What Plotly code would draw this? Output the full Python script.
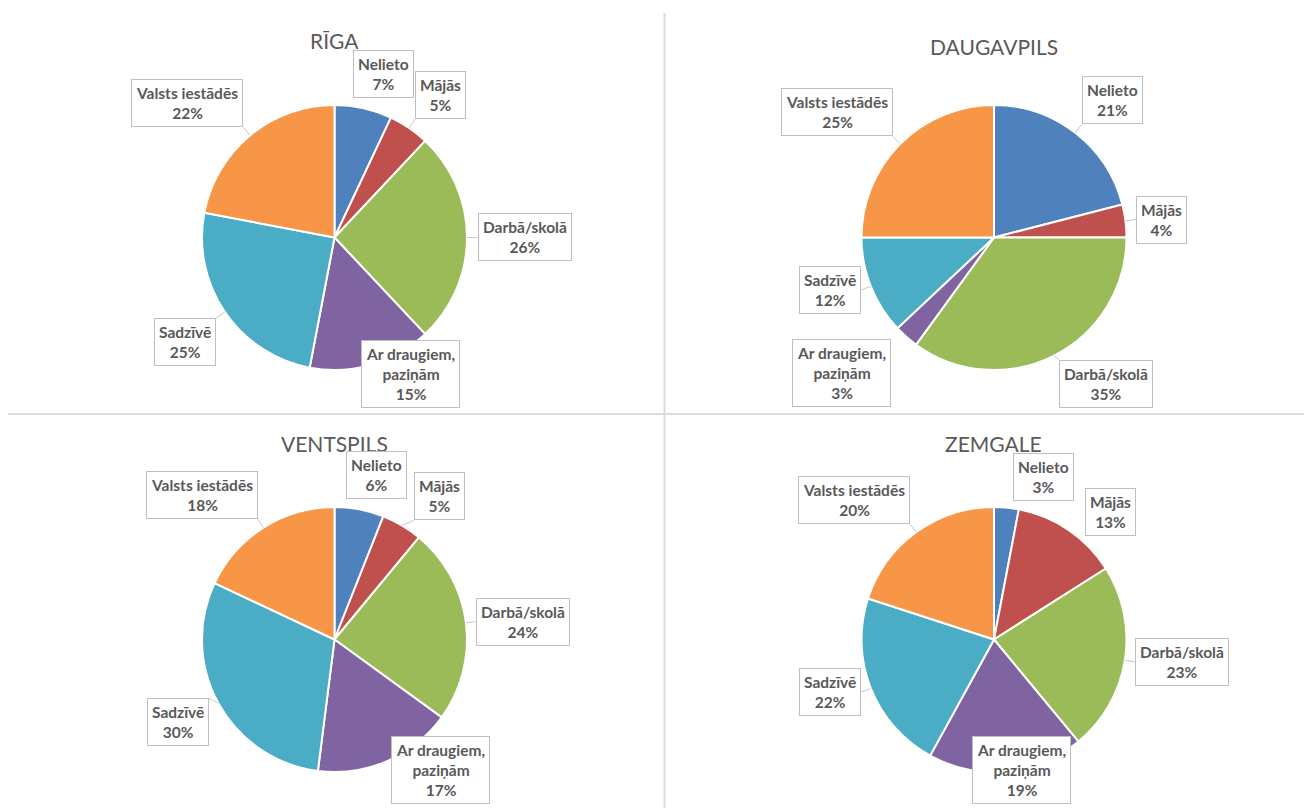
import math
import plotly.graph_objects as go

# ---------------- data ----------------
categories = ["Nelieto", "Mājās", "Darbā/skolā", "Ar draugiem,<br>paziņām", "Sadzīvē", "Valsts iestādēs"]
riga = [7, 5, 26, 15, 25, 22]
daugavpils = [21, 4, 35, 3, 12, 25]
ventspils = [6, 5, 24, 17, 30, 18]
zemgale = [3, 13, 23, 19, 22, 20]
titles = ["RĪGA", "DAUGAVPILS", "VENTSPILS", "ZEMGALE"]

# ---------------- styling / layout ----------------
W, H = 1312, 808
OFF = 8  # page body margin offset
colors = ["#4F81BD", "#C0504D", "#9BBB59", "#8064A2", "#4BACC6", "#F79646"]
TXT = "#595959"
FONT = "Lato"
R = 132.5
centers = [(334.5, 237.5), (994.0, 237.5), (334.5, 639.5), (994.0, 639.5)]
title_pos = [(334, 40), (994, 46), (334, 443), (994, 443)]
# pixel nudges for individual callouts (dx right, dy down)
nudges = {
    (0, 0): (18, 0), (0, 3): (36, -35),
    (1, 2): (0, -5), (1, 3): (-8, -6),
    (2, 0): (15, 0), (2, 1): (7, 4), (2, 3): (0, -35), (2, 4): (0, -10),
    (3, 0): (36, 4), (3, 1): (11, 15), (3, 3): (14, -46),
}

series = [riga, daugavpils, ventspils, zemgale]


def px(x):
    return (x - OFF) / W


def py(y):
    return 1 - (y - OFF) / H


fig = go.Figure()
annotations = []
shapes = []

for i, (vals, (cx, cy)) in enumerate(zip(series, centers)):
    fig.add_trace(go.Pie(
        labels=categories, values=vals, sort=False, direction="clockwise",
        rotation=0, textinfo="none", hoverinfo="label+percent",
        marker=dict(colors=colors, line=dict(color="white", width=2)),
        domain=dict(x=[px(cx - R), px(cx + R)], y=[py(cy + R), py(cy - R)]),
        showlegend=False,
    ))
    tx, ty = title_pos[i]
    annotations.append(dict(
        x=px(tx), y=py(ty), xref="paper", yref="paper", text=titles[i],
        showarrow=False, xanchor="center", yanchor="middle",
        font=dict(family=FONT, size=21, color=TXT)))

    total = sum(vals)
    cum = 0
    for j, v in enumerate(vals):
        mid = (cum + v / 2) / total * 2 * math.pi
        cum += v
        s, c = math.sin(mid), math.cos(mid)
        k = 1.08
        ax, ay = cx + s * R * k, cy - c * R * k
        xa = "left" if s >= 0.35 else ("right" if s <= -0.35 else "center")
        ya = "bottom" if c >= 0.4 else ("top" if c <= -0.4 else "middle")
        dx, dy = nudges.get((i, j), (0, 0))
        pct = round(v / total * 100)
        annotations.append(dict(
            x=px(ax), y=py(ay), xref="paper", yref="paper",
            xshift=dx, yshift=-dy,
            text=f"<b>{categories[j]}<br>{pct}%</b>",
            showarrow=False, xanchor=xa, yanchor=ya, align="center",
            font=dict(family=FONT, size=15.5, color=TXT),
            bgcolor="white", bordercolor="#bfbfbf", borderwidth=1, borderpad=4))
        # leader line from slice edge to callout
        ex, ey = cx + s * R, cy - c * R
        lx, ly = ax + dx, ay + dy
        if math.hypot(lx - ex, ly - ey) > 6 and abs(dx) + abs(dy) < 12:
            shapes.append(dict(type="line", xref="paper", yref="paper",
                               x0=px(ex), y0=py(ey), x1=px(lx), y1=py(ly),
                               line=dict(color="#c8c8c8", width=1)))

# separators between the four charts
shapes.append(dict(type="line", xref="paper", yref="paper",
                   x0=px(664.5), x1=px(664.5), y0=py(13), y1=0,
                   line=dict(color="#dcdcdc", width=2)))
shapes.append(dict(type="line", xref="paper", yref="paper",
                   x0=px(6), x1=1, y0=py(414), y1=py(414),
                   line=dict(color="#dcdcdc", width=2)))

fig.update_layout(
    width=W, height=H, margin=dict(l=0, r=0, t=0, b=0),
    paper_bgcolor="white", plot_bgcolor="white",
    annotations=annotations, shapes=shapes,
    font=dict(family=FONT, color=TXT),
)

fig.write_html("out.html")
